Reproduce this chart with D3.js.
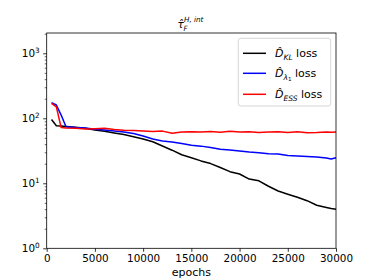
<!DOCTYPE html>
<html><head><meta charset="utf-8">
<script src="https://cdn.jsdelivr.net/npm/d3@7"></script>
<style>
body{margin:0;background:#fff;}
svg{font-family:"DejaVu Sans",sans-serif;}
</style></head>
<body><svg id="c" width="374" height="280"></svg>
<script>
const epochs = [500,1000,1500,2000,3000,4000,5000,6000,7000,8000,9000,10000,11000,12000,13000,14000,15000,16000,17000,18000,19000,20000,21000,22000,23000,24000,25000,26000,27000,28000,29000,29500,30000];
const klLoss = [96,77,76,75,72.5,70,66,63,59.5,56.5,52,48,43.5,37.5,32.3,27.5,24.7,22.1,20.1,17.5,15.1,13.9,11.6,10.9,9.0,7.6,6.8,6.1,5.4,4.6,4.25,4.1,4.0];
const lambdaLoss = [174,160,112,74,72,71,68,66,64,61.5,58.5,53.5,48,44.8,43.2,40.8,38.6,37.3,35.6,33.3,32.5,31.3,30.3,29.6,28.4,28.3,26.8,26.2,25.8,25.3,24.5,23.7,24.8];
const essLoss = [170,150,72,71,70,68.5,69,70,67,65.5,65,63.5,62.5,63.5,59,61.5,62,61.5,62.5,61,63,61.5,62,60.5,61.5,62,60.5,62,60,60.5,61.5,61,61.5];
const xTicks = [0,5000,10000,15000,20000,25000,30000];
const yTicks = [1,10,100,1000];
const seriesColors = ["#000000","#0000ff","#ff0000"];

const L=46.7,R=336,T=33,B=248.3;
const svg=d3.select("#c");
const x=d3.scaleLinear().domain([0,30000]).range([L,R]);
const y=d3.scaleLog().domain([1,Math.pow(10,3.312)]).range([B,T]);

const g=svg.append("g");
const line=d3.line().x((d,i)=>x(epochs[i])).y(d=>y(d));
const all=[klLoss,lambdaLoss,essLoss];
all.forEach((s,k)=>{
  g.append("path").attr("d",line(s)).attr("fill","none").attr("stroke",seriesColors[k]).attr("stroke-width",1.5).attr("stroke-linejoin","round");
});

// frame
svg.append("rect").attr("x",L).attr("y",T).attr("width",R-L).attr("height",B-T).attr("fill","none").attr("stroke","#000").attr("stroke-width",0.8);

// x axis
const xa=svg.append("g").attr("transform",`translate(0,${B})`).call(d3.axisBottom(x).tickValues(xTicks).tickFormat(d3.format("d")).tickSize(3.5).tickPadding(2.5));
xa.select(".domain").remove();
xa.selectAll("text").attr("font-size","10.4px").attr("font-family","DejaVu Sans").attr("fill","#000");
xa.selectAll("line").attr("stroke","#000").attr("stroke-width",0.8);

// y axis
const minor=[];
for(let e=0;e<4;e++){for(let m=2;m<10;m++){const v=m*Math.pow(10,e); if(v<=Math.pow(10,3.312)) minor.push(v);}}
const ya=svg.append("g").attr("transform",`translate(${L},0)`).call(d3.axisLeft(y).tickValues(yTicks).tickFormat("").tickSize(3.5));
ya.select(".domain").remove();
ya.selectAll("line").attr("stroke","#000").attr("stroke-width",0.8);
const ym=svg.append("g").attr("transform",`translate(${L},0)`).call(d3.axisLeft(y).tickValues(minor).tickFormat("").tickSize(2));
ym.select(".domain").remove();
ym.selectAll("line").attr("stroke","#000").attr("stroke-width",0.6);
yTicks.forEach(v=>{
  const t=svg.append("text").attr("x",L-7).attr("y",y(v)+3.8).attr("text-anchor","end").attr("font-size","10.4px").attr("fill","#000");
  t.append("tspan").text("10");
  t.append("tspan").attr("dy",-4).attr("font-size","7.3px").text(Math.round(Math.log10(v)));
});

// x label
svg.append("text").attr("x",(L+R)/2).attr("y",276).attr("text-anchor","middle").attr("font-size","11px").attr("fill","#000").text("epochs");

// title (stacked sub/superscript as separate texts)
svg.append("text").attr("x",177.5).attr("y",28).attr("font-size","10.5px").attr("font-style","italic").attr("fill","#000").text("τ\u0302");
svg.append("text").attr("x",183.5).attr("y",31.2).attr("font-size","7.2px").attr("font-style","italic").attr("fill","#000").text("F");
svg.append("text").attr("x",184).attr("y",22.3).attr("font-size","7.2px").attr("font-style","italic").attr("fill","#000").text("H, int");

// legend
const lg=svg.append("g");
lg.append("rect").attr("x",238.3).attr("y",38.3).attr("width",92.4).attr("height",67.7).attr("rx",2.5).attr("fill","#fff").attr("fill-opacity",0.8).attr("stroke","#cccccc").attr("stroke-width",0.8);
const rowsY=[53.3,73.3,94.3];
const subs=["KL","λ","ESS"];
subs.forEach((n,k)=>{
  lg.append("line").attr("x1",243).attr("x2",266).attr("y1",rowsY[k]).attr("y2",rowsY[k]).attr("stroke",seriesColors[k]).attr("stroke-width",1.5);
  const t=lg.append("text").attr("x",275).attr("y",rowsY[k]+4).attr("font-size","11px").attr("fill","#000");
  t.append("tspan").attr("font-style","italic").text("D\u0302");
  if(k===1){
    t.append("tspan").attr("font-style","italic").attr("font-size","7.5px").attr("dy",2.5).text("λ");
    t.append("tspan").attr("font-size","5.5px").attr("dy",1.5).text("1");
    t.append("tspan").attr("dy",-4).text("\u00a0loss");
  } else {
    t.append("tspan").attr("font-style","italic").attr("font-size","7.5px").attr("dy",2.5).text(n);
    t.append("tspan").attr("dy",-2.5).text("\u00a0loss");
  }
});
</script></body></html>
